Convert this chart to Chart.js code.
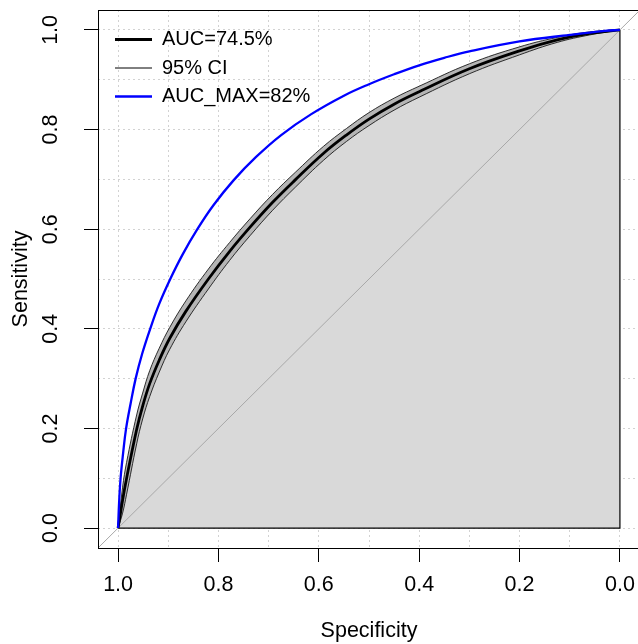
<!DOCTYPE html>
<html>
<head>
<meta charset="utf-8">
<script src="https://cdn.jsdelivr.net/npm/chart.js@4.4.1/dist/chart.umd.min.js"></script>
<style>
  html, body { margin: 0; padding: 0; background: #fff; overflow: hidden; }
  #roc { position: absolute; left: 0; top: 0; }
</style>
</head>
<body>
<canvas id="roc" width="640" height="644"></canvas>
<script>
// ROC curve (specificity reversed on x)

var specPts = [1.0, 0.991, 0.983, 0.963, 0.951, 0.937, 0.918, 0.897, 0.865, 0.82, 0.778, 0.737, 0.692, 0.647, 0.591, 0.545, 0.5, 0.45, 0.4, 0.3, 0.2, 0.125, 0.06, 0.0];
var aucSens = [0, 0.056, 0.1, 0.198, 0.245, 0.29, 0.337, 0.381, 0.435, 0.5, 0.555, 0.604, 0.654, 0.699, 0.752, 0.789, 0.821, 0.851, 0.876, 0.922, 0.958, 0.98, 0.993, 1.0];
var ciLower = [0, 0.03, 0.068, 0.169, 0.219, 0.264, 0.313, 0.359, 0.414, 0.48, 0.537, 0.587, 0.638, 0.684, 0.738, 0.776, 0.808, 0.839, 0.865, 0.912, 0.95, 0.975, 0.99, 1.0];
var ciUpper = [0, 0.082, 0.132, 0.227, 0.271, 0.316, 0.361, 0.403, 0.456, 0.52, 0.573, 0.621, 0.67, 0.714, 0.766, 0.802, 0.834, 0.863, 0.887, 0.932, 0.966, 0.985, 0.996, 1.0];

var maxSpec = [1.0, 0.998, 0.995, 0.99, 0.984, 0.975, 0.965, 0.952, 0.936, 0.918, 0.896, 0.871, 0.842, 0.81, 0.77, 0.725, 0.675, 0.615, 0.55, 0.5, 0.45, 0.4, 0.35, 0.3, 0.2, 0.1, 0.03, 0.0];
var maxSens = [0, 0.05, 0.1, 0.15, 0.2, 0.25, 0.3, 0.35, 0.4, 0.45, 0.5, 0.55, 0.6, 0.648, 0.698, 0.745, 0.789, 0.831, 0.868, 0.891, 0.911, 0.929, 0.944, 0.957, 0.977, 0.99, 0.998, 1.0];

var gridVals = [0, 0.1, 0.2, 0.3, 0.4, 0.5, 0.6, 0.7, 0.8, 0.9, 1.0];
var tickVals = [0, 0.2, 0.4, 0.6, 0.8, 1.0];
var tickLabels = ["0.0", "0.2", "0.4", "0.6", "0.8", "1.0"];

var legendLabels = ["AUC=74.5%", "95% CI", "AUC_MAX=82%"];
var legendColors = ["#000000", "#000000", "#0000ff"];
var legendWidths = [3, 1, 2.5];

var axisMin = -0.04, axisMax = 1.04;
var FONT = "'Liberation Sans', Arial, sans-serif";

function pts(xs, ys) {
  return xs.map(function (x, i) { return { x: x, y: ys[i] }; });
}
function tickText(v) {
  for (var i = 0; i < tickVals.length; i++) {
    if (Math.abs(tickVals[i] - v) < 1e-6) return tickLabels[i];
  }
  return '';
}
function setTicks(scale) {
  scale.ticks = gridVals.map(function (v) { return { value: v }; });
}

var last = specPts.length - 1;

// datasets listed top layer first
var datasets = [
  { label: 'AUC_MAX', data: pts(maxSpec, maxSens), borderColor: '#0000ff', borderWidth: 2.3, tension: 0.4 },
  { label: 'AUC', data: pts(specPts, aucSens), borderColor: '#000000', borderWidth: 2.8, tension: 0.4 },
  { label: 'CI upper', data: pts(specPts, ciUpper), borderColor: '#1a1a1a', borderWidth: 0.9, tension: 0.4 },
  { label: 'CI lower', data: pts(specPts, ciLower), borderColor: '#1a1a1a', borderWidth: 0.9, tension: 0.4,
    fill: '-1', backgroundColor: '#b5b5b5' },
  { label: 'chance', data: [{ x: axisMax, y: 1 - axisMax }, { x: axisMin, y: 1 - axisMin }],
    borderColor: '#a8a8a8', borderWidth: 1 },
  { label: 'polygon edge', data: [{ x: specPts[last], y: aucSens[last] }, { x: specPts[last], y: 0 }, { x: specPts[0], y: 0 }],
    borderColor: '#000000', borderWidth: 1.2 },
  { label: 'AUC area', data: pts(specPts, aucSens), borderWidth: 0, borderColor: 'rgba(0,0,0,0)', tension: 0.4,
    fill: 'origin', backgroundColor: '#d9d9d9' }
];
datasets.forEach(function (d) {
  d.showLine = true;
  d.pointRadius = 0;
  if (d.fill === undefined) d.fill = false;
});

var rocPlugin = {
  id: 'rocExtras',
  afterLayout: function (chart) {
    var a = chart.chartArea, lg = chart.legend;
    lg.left = a.left + 8.5;
    lg.top = a.top + 11;
  },
  afterDraw: function (chart) {
    var ctx = chart.ctx, a = chart.chartArea, ys = chart.scales.y;
    ctx.save();
    ctx.strokeStyle = '#000';
    ctx.lineWidth = 1;
    ctx.strokeRect(a.left + 0.5, a.top + 0.5, a.right - a.left, a.bottom - a.top);
    ctx.fillStyle = '#000';
    ctx.font = '21.5px ' + FONT;
    ctx.textAlign = 'center';
    ctx.textBaseline = 'middle';
    ys.ticks.forEach(function (t) {
      var lbl = tickText(t.value);
      if (!lbl) return;
      ctx.save();
      ctx.translate(51, ys.getPixelForValue(t.value));
      ctx.rotate(-Math.PI / 2);
      ctx.fillText(lbl, 0, 0);
      ctx.restore();
    });
    ctx.restore();
  }
};

var gridOpts = {
  color: '#d2d2d2',
  lineWidth: 1,
  tickLength: 14,
  tickWidth: 1,
  tickColor: function (c) { return tickText(c.tick.value) ? '#000' : 'rgba(0,0,0,0)'; }
};

var ctx = document.getElementById('roc').getContext('2d');
var rocChart = new Chart(ctx, {
  type: 'scatter',
  data: { datasets: datasets },
  plugins: [rocPlugin],
  options: {
    responsive: false,
    animation: false,
    layout: { padding: { top: 10, left: 0, right: 0, bottom: 0 } },
    plugins: {
      tooltip: { enabled: false },
      legend: {
        position: 'chartArea',
        align: 'start',
        labels: {
          usePointStyle: true,
          pointStyleWidth: 37,
          padding: 8.5,
          color: '#000',
          font: { family: FONT, size: 20 },
          generateLabels: function () {
            return legendLabels.map(function (t, i) {
              return { text: t, strokeStyle: legendColors[i], fillStyle: legendColors[i],
                lineWidth: legendWidths[i], pointStyle: 'line', fontColor: '#000', hidden: false };
            });
          }
        }
      }
    },
    scales: {
      x: {
        type: 'linear',
        reverse: true,
        min: axisMin,
        max: axisMax,
        afterBuildTicks: setTicks,
        afterFit: function (s) { s.height = 96; },
        grid: gridOpts,
        border: { display: false, dash: [2, 3] },
        ticks: {
          color: '#000',
          padding: 10,
          maxRotation: 0,
          autoSkip: false,
          font: { family: FONT, size: 21.5 },
          callback: function (v) { return tickText(v); }
        },
        title: { display: true, text: 'Specificity', color: '#000', padding: { top: 0, bottom: 0 },
          font: { family: FONT, size: 21.5 } }
      },
      y: {
        type: 'linear',
        min: axisMin,
        max: axisMax,
        afterBuildTicks: setTicks,
        afterFit: function (s) { s.width = 98; },
        grid: gridOpts,
        border: { display: false, dash: [2, 3] },
        ticks: {
          display: false,
          autoSkip: false,
          callback: function (v) { return tickText(v); }
        },
        title: { display: true, text: 'Sensitivity', color: '#000', padding: { top: 8, bottom: 0 },
          font: { family: FONT, size: 21.5 } }
      }
    }
  }
});
</script>
</body>
</html>
